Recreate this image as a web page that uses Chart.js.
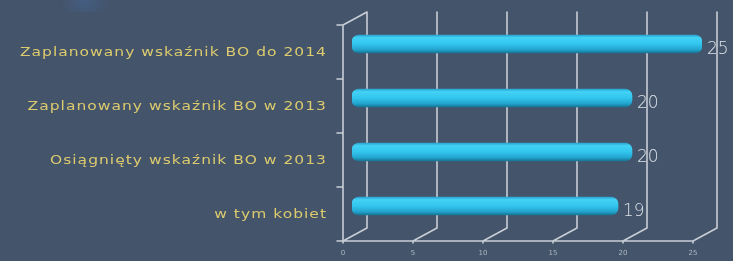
<!DOCTYPE html>
<html>
<head>
<meta charset="utf-8">
<script src="https://cdn.jsdelivr.net/npm/chart.js@4"></script>
<style>
html,body{margin:0;padding:0;background:#44546A;}
#wrap{width:733px;height:261px;position:relative;}
</style>
</head>
<body>
<div id="wrap"><canvas id="c" width="733" height="261"></canvas></div>
<script>
const categories = ["Zaplanowany wskaźnik BO do 2014", "Zaplanowany wskaźnik BO w 2013", "Osiągnięty wskaźnik BO w 2013", "w tym kobiet"];
const values = [25, 20, 20, 19];
const tickValues = [0, 5, 10, 15, 20, 25];
const tickLabels = ["0", "5", "10", "15", "20", "25"];

// 3D offsets relative to the bar plane
const FRONT = {dx: -9, dy: 8};
const GRID = '#C9CED6';

function barGradient(c) {
  const chart = c.chart;
  const ys = chart.scales && chart.scales.y;
  if (!ys || c.dataIndex === undefined) return '#2EC0EA';
  const y = ys.getPixelForValue(c.dataIndex);
  if (!isFinite(y)) return '#2EC0EA';
  const g = chart.ctx.createLinearGradient(0, y - 9, 0, y + 9);
  g.addColorStop(0, '#2AA3CF');
  g.addColorStop(0.15, '#43D2F6');
  g.addColorStop(0.5, '#32C5EE');
  g.addColorStop(0.82, '#22A3CD');
  g.addColorStop(1, '#167595');
  return g;
}

const framePlugin = {
  id: 'frame3d',
  beforeDatasetsDraw(chart) {
    const ctx = chart.ctx;
    const xs = chart.scales.x;
    const top = chart.chartArea.top, bottom = chart.chartArea.bottom;
    const fBottom = bottom + FRONT.dy, fTop = top + FRONT.dy;
    const bBottom = fBottom - 13, bTop = fTop - 13;
    ctx.save();
    // faint cropped logo at the top
    const rg = ctx.createRadialGradient(85, 0, 2, 85, 0, 26);
    rg.addColorStop(0, 'rgba(70,110,170,0.35)');
    rg.addColorStop(1, 'rgba(70,110,170,0)');
    ctx.fillStyle = rg;
    ctx.fillRect(45, 0, 80, 12);

    ctx.strokeStyle = GRID;
    ctx.lineWidth = 1.6;
    ctx.lineCap = 'round';
    ctx.beginPath();
    tickValues.forEach(v => {
      const fx = xs.getPixelForValue(v) + FRONT.dx;
      const bx = fx + 24;
      ctx.moveTo(bx, bTop);
      ctx.lineTo(bx, bBottom);
      ctx.lineTo(fx, fBottom);
      ctx.moveTo(fx, fBottom);
      ctx.lineTo(fx, fBottom + 2);
    });
    ctx.moveTo(xs.getPixelForValue(0) + FRONT.dx, fBottom);
    ctx.lineTo(xs.getPixelForValue(25) + FRONT.dx, fBottom);
    const lx = xs.getPixelForValue(0) + FRONT.dx;
    ctx.moveTo(lx, fBottom);
    ctx.lineTo(lx, fTop);
    ctx.lineTo(lx + 24, bTop);
    const n = categories.length;
    for (let i = 0; i <= n; i++) {
      const y = fTop + (fBottom - fTop) * i / n;
      ctx.moveTo(lx - 6, y);
      ctx.lineTo(lx, y);
    }
    ctx.stroke();
    ctx.restore();
  },
  afterDatasetsDraw(chart) {
    const ctx = chart.ctx;
    const xs = chart.scales.x, ys = chart.scales.y;
    const bottom = chart.chartArea.bottom + FRONT.dy;
    const SX = 1.29;
    ctx.save();
    ctx.fillStyle = '#DCCB6E';
    ctx.font = '12px "DejaVu Sans"';
    ctx.textAlign = 'right';
    ctx.textBaseline = 'middle';
    ctx.letterSpacing = '0.8px';
    categories.forEach((c, i) => {
      const y = ys.getPixelForValue(i) + FRONT.dy;
      ctx.save();
      ctx.translate(327, y + 1);
      ctx.scale(SX, 1);
      ctx.fillText(c, 0, 0);
      ctx.restore();
    });
    ctx.letterSpacing = '0px';
    ctx.textAlign = 'left';
    ctx.fillStyle = '#DCE1E8';
    ctx.font = '200 17px "DejaVu Sans"';
    values.forEach((v, i) => {
      const x = xs.getPixelForValue(v) + 5;
      const y = ys.getPixelForValue(i) + 6;
      ctx.fillText(String(v), x, y);
    });
    ctx.textAlign = 'center';
    ctx.fillStyle = '#AEB6C2';
    ctx.font = '7px "DejaVu Sans"';
    tickValues.forEach((v, i) => {
      ctx.fillText(tickLabels[i], xs.getPixelForValue(v) + FRONT.dx, bottom + 12);
    });
    ctx.restore();
  }
};

new Chart(document.getElementById('c'), {
  type: 'bar',
  data: {
    labels: categories,
    datasets: [{
      data: values,
      backgroundColor: barGradient,
      borderWidth: 0,
      borderRadius: 7,
      borderSkipped: false,
      barThickness: 18
    }]
  },
  options: {
    indexAxis: 'y',
    responsive: false,
    animation: false,
    events: [],
    layout: {padding: {left: 352, right: 31, top: 17, bottom: 28}},
    plugins: {legend: {display: false}, tooltip: {enabled: false}},
    scales: {
      x: {display: false, min: 0, max: 25},
      y: {display: false}
    }
  },
  plugins: [framePlugin]
});
</script>
</body>
</html>
